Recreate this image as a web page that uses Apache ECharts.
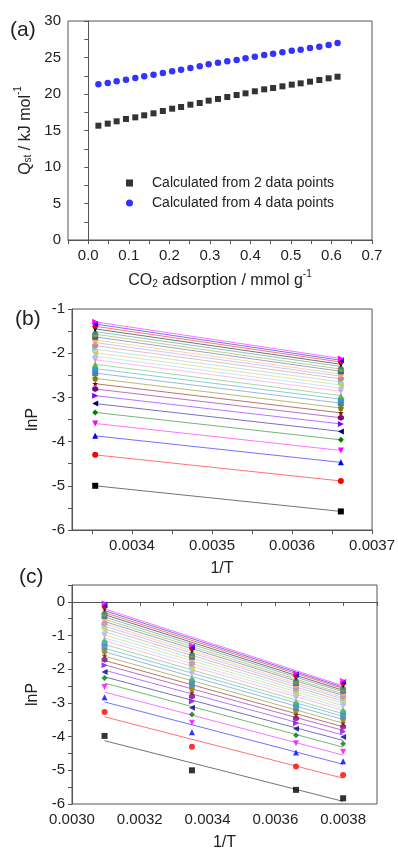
<!DOCTYPE html>
<html>
<head>
<meta charset="utf-8">
<script src="https://cdn.jsdelivr.net/npm/echarts@6/dist/echarts.min.js"></script>
<style>
html,body{margin:0;padding:0;background:#fff;}
#chart{width:398px;height:852px;}
</style>
</head>
<body>
<div id="chart"></div>
<script>
// ---------- DATA ----------
// (a) CO2 loading (mmol/g) and isosteric heat (kJ/mol)
const loading = [0.025, 0.048, 0.070, 0.093, 0.116, 0.138, 0.161, 0.184, 0.207, 0.229, 0.252, 0.275, 0.297, 0.320, 0.343, 0.366, 0.388, 0.411, 0.434, 0.456, 0.479, 0.502, 0.524, 0.547, 0.570, 0.593, 0.615];
const qst2pts = [15.66, 15.94, 16.26, 16.58, 16.80, 17.08, 17.35, 17.67, 17.99, 18.22, 18.54, 18.77, 19.09, 19.32, 19.59, 19.86, 20.09, 20.37, 20.64, 20.82, 21.05, 21.28, 21.46, 21.69, 21.92, 22.15, 22.37];
const qst4pts = [21.32, 21.51, 21.74, 21.96, 22.19, 22.42, 22.65, 22.88, 23.11, 23.33, 23.56, 23.79, 24.06, 24.29, 24.47, 24.66, 24.89, 25.11, 25.34, 25.53, 25.71, 25.94, 26.07, 26.30, 26.48, 26.71, 26.99];
const seriesNames2 = ['Calculated from 2 data points', 'Calculated from 4 data points'];

// (b),(c) 1/T values
const invT2 = [0.003354, 0.003661];
const invT4 = [0.003096, 0.003354, 0.003661, 0.003800];

// lnP at each temperature, one entry per loading
const lnP323 = [-3.98, -3.27, -2.83, -2.53, -2.26, -2.08, -1.88, -1.72, -1.59, -1.46, -1.33, -1.22, -1.11, -1.00, -0.91, -0.82, -0.73, -0.64, -0.56, -0.49, -0.42, -0.35, -0.28, -0.21, -0.15, -0.09, -0.04];
const lnP298 = [-5.00, -4.30, -3.87, -3.59, -3.34, -3.14, -2.96, -2.81, -2.69, -2.57, -2.45, -2.35, -2.25, -2.15, -2.07, -1.99, -1.91, -1.83, -1.76, -1.70, -1.63, -1.57, -1.51, -1.45, -1.39, -1.34, -1.29];
const lnP273 = [-5.58, -4.89, -4.47, -4.20, -3.96, -3.77, -3.60, -3.46, -3.35, -3.24, -3.13, -3.04, -2.96, -2.86, -2.79, -2.72, -2.65, -2.58, -2.52, -2.47, -2.41, -2.36, -2.30, -2.25, -2.20, -2.16, -2.12];
const lnP263 = [-5.83, -5.14, -4.73, -4.45, -4.21, -4.01, -3.85, -3.71, -3.60, -3.49, -3.38, -3.28, -3.20, -3.10, -3.03, -2.96, -2.89, -2.82, -2.75, -2.70, -2.64, -2.59, -2.53, -2.48, -2.42, -2.38, -2.34];

// tick labels / tick positions
const aXLabels = [0.0, 0.1, 0.2, 0.3, 0.4, 0.5, 0.6, 0.7];
const aXTicks = [-0.05, 0.0, 0.05, 0.1, 0.15, 0.2, 0.25, 0.3, 0.35, 0.4, 0.45, 0.5, 0.55, 0.6, 0.65, 0.7];
const aYLabels = [0, 5, 10, 15, 20, 25, 30];
const aYTicks = [0, 2.5, 5, 7.5, 10, 12.5, 15, 17.5, 20, 22.5, 25, 27.5, 30];
const bXLabels = [0.0034, 0.0035, 0.0036, 0.0037];
const bXTicks = [0.00335, 0.0034, 0.00345, 0.0035, 0.00355, 0.0036, 0.00365, 0.0037];
const bYLabels = [-6, -5, -4, -3, -2, -1];
const bYTicks = [-6, -5.5, -5, -4.5, -4, -3.5, -3, -2.5, -2, -1.5, -1];
const cXLabels = [0.0030, 0.0032, 0.0034, 0.0036, 0.0038];
const cXTicks = [0.0030, 0.0031, 0.0032, 0.0033, 0.0034, 0.0035, 0.0036, 0.0037, 0.0038, 0.0039];
const cYLabels = [-6, -5, -4, -3, -2, -1, 0];
const cYTicks = [-6, -5.5, -5, -4.5, -4, -3.5, -3, -2.5, -2, -1.5, -1, -0.5, 0, 0.5];

// ---------- STYLE ----------
const FONT = '"Liberation Sans", Arial, sans-serif';
const TXT = '#222';
const AX = '#555';
const palette = ['#000000','#FF0000','#0000FF','#FF00FF','#008000','#000080','#8000FF','#800080','#800000','#808000',
  '#4682B4','#3399CC','#55BB55','#FF88CC','#99CCFF','#CCCC55','#88CCCC','#CC8888','#9999FF','#FFAA55',
  '#336699','#999933','#2E8B8B','#000000','#FF0000','#0000FF','#FF00FF'];
const shapes = [
  {s:'rect'},{s:'circle'},{s:'triangle'},
  {s:'path://M0,0 L100,0 L50,87 Z'},
  {s:'diamond'},
  {s:'path://M0,50 L87,0 L87,100 Z'},
  {s:'path://M0,0 L87,50 L0,100 Z'},
  {s:'path://M50,0 L93.3,25 L93.3,75 L50,100 L6.7,75 L6.7,25 Z'},
  {s:'path://M50,0 L61,35 L98,35 L68,57 L79,91 L50,70 L21,91 L32,57 L2,35 L39,35 Z'},
  {s:'path://M50,0 L97.6,34.5 L79.4,90.5 L20.6,90.5 L2.4,34.5 Z'}
];
const richName = {
  n: {fontSize: 16, fontFamily: FONT, color: TXT, lineHeight: 20, verticalAlign: 'bottom'},
  sub: {fontSize: 10, fontFamily: FONT, color: TXT, lineHeight: 10, verticalAlign: 'bottom'},
  sup: {fontSize: 10, fontFamily: FONT, color: TXT, lineHeight: 10, verticalAlign: 'top'}
};

function axisBase(extra) {
  return Object.assign({
    type: 'value',
    axisLine: {show: true, lineStyle: {color: AX, width: 1}},
    splitLine: {show: false},
    nameTextStyle: {fontSize: 16, fontFamily: FONT, color: TXT, rich: richName},
  }, extra);
}
function lbl(values, fmt, margin) {
  return {customValues: values, formatter: fmt, fontSize: 15, fontFamily: FONT, color: TXT, margin: margin};
}
function ticks(values) {
  return {show: true, inside: false, length: 4, customValues: values, lineStyle: {color: AX}};
}

function fit(xs, ys) {
  const n = xs.length;
  let mx = 0, my = 0;
  for (let i = 0; i < n; i++) { mx += xs[i]; my += ys[i]; }
  mx /= n; my /= n;
  let sxy = 0, sxx = 0;
  for (let i = 0; i < n; i++) { sxy += (xs[i]-mx)*(ys[i]-my); sxx += (xs[i]-mx)*(xs[i]-mx); }
  const k = sxy / sxx, b = my - k*mx;
  return x => k*x + b;
}

const series = [];
// (a)
series.push({
  name: seriesNames2[0], type: 'scatter', xAxisIndex: 0, yAxisIndex: 0,
  symbol: 'rect', symbolSize: 6, itemStyle: {color: '#000'},
  data: loading.map((x, i) => [x, qst2pts[i]])
});
series.push({
  name: seriesNames2[1], type: 'scatter', xAxisIndex: 0, yAxisIndex: 0,
  symbol: 'circle', symbolSize: 6.5, itemStyle: {color: '#0000FF'},
  data: loading.map((x, i) => [x, qst4pts[i]])
});
// (b)
for (let i = 0; i < loading.length; i++) {
  const c = palette[i % palette.length], sh = shapes[i % shapes.length];
  series.push({
    name: 'b' + i, type: 'line', xAxisIndex: 1, yAxisIndex: 1,
    symbol: sh.s, symbolSize: 6, showSymbol: true,
    itemStyle: {color: c}, lineStyle: {color: c, width: 1, opacity: 0.55},
    data: [[invT2[0], lnP298[i]], [invT2[1], lnP273[i]]],
    z: 2 + i * 0.01
  });
}
// (c)
for (let i = 0; i < loading.length; i++) {
  const c = palette[i % palette.length], sh = shapes[i % shapes.length];
  const ys = [lnP323[i], lnP298[i], lnP273[i], lnP263[i]];
  const f = fit(invT4, ys);
  series.push({
    name: 'cfit' + i, type: 'line', xAxisIndex: 2, yAxisIndex: 2,
    showSymbol: false, symbol: 'none',
    lineStyle: {color: c, width: 1, opacity: 0.55},
    data: [[invT4[0], f(invT4[0])], [invT4[3], f(invT4[3])]],
    z: 2
  });
  series.push({
    name: 'c' + i, type: 'scatter', xAxisIndex: 2, yAxisIndex: 2,
    symbol: sh.s, symbolSize: 6, itemStyle: {color: c},
    data: invT4.map((x, j) => [x, ys[j]]),
    z: 3
  });
}

const option = {
  animation: false,
  backgroundColor: '#fff',
  textStyle: {fontFamily: FONT},
  grid: [
    {left: 68, top: 21, width: 304, height: 219, show: true, borderColor: AX, borderWidth: 1, backgroundColor: 'transparent'},
    {left: 72, top: 309, width: 301, height: 221, show: true, borderColor: AX, borderWidth: 1, backgroundColor: 'transparent'},
    {left: 72, top: 585, width: 305, height: 220, show: true, borderColor: AX, borderWidth: 1, backgroundColor: 'transparent'}
  ],
  xAxis: [
    axisBase({gridIndex: 0, min: -0.05, max: 0.7,
      name: '{n|CO}{sub|2}{n| adsorption / mmol g}{sup|-1}', nameLocation: 'middle', nameGap: 29,
      axisLabel: lbl(aXLabels, v => v.toFixed(1), 8), axisTick: ticks(aXTicks)}),
    axisBase({gridIndex: 1, min: 0.003325, max: 0.0037,
      name: '1/T', nameLocation: 'middle', nameGap: 31,
      axisLabel: lbl(bXLabels, v => v.toFixed(4), 8), axisTick: ticks(bXTicks)}),
    axisBase({gridIndex: 2, min: 0.0030, max: 0.0039,
      name: '1/T', nameLocation: 'middle', nameGap: 31,
      axisLabel: lbl(cXLabels, v => v.toFixed(4), 8), axisTick: ticks(cXTicks)})
  ],
  yAxis: [
    axisBase({gridIndex: 0, min: 0, max: 30,
      name: '{n|Q}{sub|st}{n| / kJ mol}{sup|-1}', nameLocation: 'middle', nameGap: 33,
      axisLabel: lbl(aYLabels, v => String(v), 7), axisTick: ticks(aYTicks)}),
    axisBase({gridIndex: 1, min: -6, max: -1,
      name: 'lnP', nameLocation: 'middle', nameGap: 30,
      axisLabel: lbl(bYLabels, v => String(v), 7), axisTick: ticks(bYTicks)}),
    axisBase({gridIndex: 2, min: -6, max: 0.5,
      name: 'lnP', nameLocation: 'middle', nameGap: 30,
      axisLabel: lbl(cYLabels, v => String(v), 7), axisTick: ticks(cYTicks)})
  ],
  legend: {
    data: seriesNames2,
    orient: 'vertical', left: 121, top: 170,
    itemWidth: 7, itemHeight: 7, itemGap: 4,
    selectedMode: false,
    textStyle: {fontSize: 14, fontFamily: FONT, color: TXT, lineHeight: 16, padding: [0, 0, 0, 14]}
  },
  graphic: [
    {type: 'text', left: 10, top: 20, style: {text: '(a)', fontSize: 21, fontFamily: FONT, fill: TXT}},
    {type: 'text', left: 15, top: 309, style: {text: '(b)', fontSize: 21, fontFamily: FONT, fill: TXT}},
    {type: 'text', left: 19, top: 567, style: {text: '(c)', fontSize: 21, fontFamily: FONT, fill: TXT}}
  ],
  series: series
};

const chart = echarts.init(document.getElementById('chart'), null, {renderer: 'canvas'});
chart.setOption(option);
</script>
</body>
</html>
